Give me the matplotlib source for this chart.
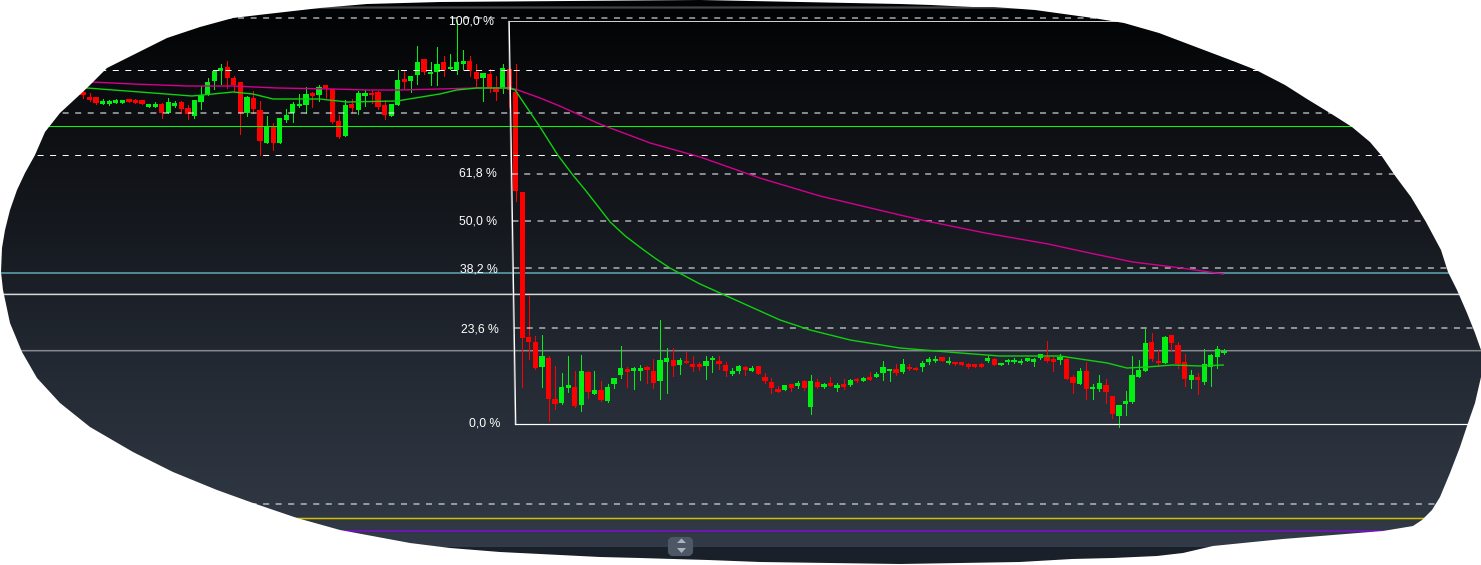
import matplotlib
matplotlib.use("Agg")
import matplotlib.pyplot as plt
import numpy as np
from matplotlib.patches import FancyBboxPatch, PathPatch, Polygon
from matplotlib.path import Path

# candles, price units are arbitrary: 0 is the 0,0 % line
candle_open = [
    332, 327, 327, 320, 320, 321, 321, 325, 324, 324,
    317, 317, 320, 311, 318, 322, 316, 308, 322, 330,
    343, 353, 357, 346, 342, 311, 326, 314, 281, 297,
    281, 304, 311, 318, 319, 331, 329, 339, 335, 303,
    288, 320, 314, 328, 331, 332, 319, 308, 319, 345,
    343, 349, 365, 350, 352, 362, 355, 354, 360, 363,
    352, 346, 350, 335, 336, 355, 332, 232, 87, 82,
    57, 66, 25, 21, 36, 37, 19, 52, 30, 34,
    23, 40, 49, 55, 53, 53, 57, 53, 43, 62,
    64, 59, 63, 60, 60, 58, 64, 63, 59, 50,
    53, 57, 53, 58, 47, 42, 35, 34, 40, 38,
    43, 17, 42, 37, 41, 36, 40, 39, 45, 43,
    47, 47, 51, 53, 55, 52, 57, 56, 57, 62,
    63, 67, 61, 62, 62, 60, 60, 60, 63, 65,
    59, 62, 62, 61, 63, 62, 66, 67, 65, 64,
    65, 47, 40, 53, 35, 35, 39, 28, 8, 20,
    22, 47, 53, 82, 63, 61, 89, 79, 62, 44,
    47, 42, 57, 67, 71,
]
candle_close = [
    329, 324, 321, 323, 323, 324, 324, 322, 321, 320,
    320, 320, 311, 322, 321, 315, 310, 324, 329, 342,
    353, 356, 346, 339, 311, 327, 315, 283, 298, 281,
    306, 309, 320, 320, 330, 328, 337, 336, 302, 287,
    319, 316, 331, 331, 329, 317, 309, 320, 344, 342,
    348, 362, 352, 352, 360, 354, 357, 362, 363, 353,
    345, 351, 336, 332, 356, 334, 233, 86, 82, 56,
    68, 25, 20, 37, 39, 18, 53, 32, 34, 24,
    37, 46, 56, 52, 56, 56, 54, 41, 64, 66,
    58, 64, 61, 57, 57, 63, 66, 60, 53, 53,
    58, 54, 56, 50, 43, 36, 32, 39, 36, 41,
    36, 43, 37, 40, 38, 39, 37, 44, 43, 46,
    44, 50, 57, 55, 51, 60, 55, 54, 61, 65,
    65, 63, 63, 60, 59, 57, 57, 57, 66, 59,
    61, 64, 64, 63, 66, 65, 70, 63, 62, 67,
    45, 41, 53, 35, 37, 41, 32, 10, 19, 23,
    49, 54, 81, 65, 61, 87, 81, 60, 45, 49,
    44, 60, 69, 75, 73,
]
candle_high = [
    333, 331, 327, 325, 324, 325, 324, 325, 325, 324,
    320, 322, 321, 326, 323, 323, 319, 324, 338, 346,
    354, 360, 363, 348, 342, 328, 333, 323, 308, 301,
    306, 315, 322, 330, 337, 332, 339, 339, 335, 309,
    324, 325, 333, 334, 334, 333, 324, 320, 354, 354,
    348, 378, 365, 362, 377, 368, 370, 404, 374, 368,
    360, 351, 355, 348, 360, 356, 360, 232, 129, 88,
    89, 68, 58, 51, 68, 53, 69, 53, 53, 43,
    40, 46, 78, 57, 57, 59, 58, 65, 104, 76,
    76, 66, 72, 68, 62, 68, 68, 68, 62, 56,
    59, 58, 58, 58, 51, 46, 38, 39, 40, 43,
    44, 49, 45, 41, 47, 41, 45, 45, 46, 47,
    52, 52, 63, 55, 60, 65, 60, 57, 63, 67,
    68, 67, 67, 62, 62, 61, 60, 61, 68, 66,
    61, 65, 66, 65, 66, 66, 70, 83, 67, 70,
    66, 49, 56, 62, 40, 49, 45, 28, 19, 33,
    68, 64, 95, 91, 74, 88, 89, 82, 70, 54,
    51, 75, 70, 78, 75,
]
candle_low = [
    326, 323, 320, 320, 319, 321, 321, 322, 321, 320,
    317, 317, 306, 311, 317, 311, 305, 306, 315, 329,
    335, 340, 336, 333, 290, 308, 311, 269, 281, 274,
    281, 302, 302, 317, 311, 317, 323, 326, 301, 286,
    288, 312, 310, 318, 321, 315, 305, 308, 319, 336,
    332, 340, 350, 339, 339, 348, 355, 350, 355, 348,
    337, 323, 332, 324, 331, 317, 223, 37, 65, 55,
    37, 3, 15, 20, 32, 17, 13, 26, 30, 23,
    22, 36, 46, 37, 35, 44, 41, 36, 25, 31,
    48, 50, 61, 53, 54, 45, 52, 55, 48, 49,
    51, 49, 53, 50, 41, 31, 32, 34, 33, 36,
    34, 10, 36, 36, 38, 33, 35, 38, 42, 43,
    44, 47, 44, 43, 49, 51, 54, 54, 53, 60,
    62, 63, 60, 59, 59, 56, 57, 57, 62, 59,
    59, 60, 61, 60, 63, 58, 65, 62, 53, 60,
    45, 31, 40, 25, 25, 33, 21, 6, -3, 9,
    21, 47, 53, 63, 58, 61, 74, 56, 38, 36,
    30, 40, 38, 56, 70,
]

slow_ma_bar = [1.4, 7.6, 15.9, 22.9, 29.6, 38.1, 43.3, 48.3, 54.4, 60.1, 65.1, 65.9, 69.7,
               72.7, 78.8, 86.5, 94.1, 103.2, 112.4, 124.6, 128.6, 137.6, 147.2, 152.8, 160.1, 167.5, 173.9]
slow_ma_val = [342, 340, 338, 338, 336, 335, 334, 334, 335, 336, 336, 335, 326,
               318, 300, 281, 267, 246, 228, 209, 203, 191, 180, 172, 162, 156, 150]
fast_ma_bar = [0.6, 8.7, 16.6, 19.8, 22.9, 25.9, 29, 36.1, 40.3, 47.9, 48.8, 54.4, 57, 60.1, 65.1, 65.9,
               69.7, 72.4, 74.7, 76.6, 80.4, 82.7, 84.9, 87.2, 89.5, 94.1, 100.2, 106.3, 110.9, 117, 124.6, 133.8,
               139.8, 149, 153.1, 156.2, 159.2, 162.3, 164.2, 166.2, 170.4, 173.9]
fast_ma_val = [336, 332, 328, 330, 332, 330, 325, 325, 322, 323, 324, 330, 334, 336, 336, 334,
               297, 269, 249, 234, 202, 188, 177, 166, 156, 140, 122, 104, 94, 84, 76, 71,
               68, 68, 64, 61, 56, 57, 58, 59, 58, 59]

# horizontal levels
full_dash_levels = [406, 353.5, 311, 268.5, -80]
fib_dash_levels = [250, 203, 156, 96]
green_level = 297.5
teal_level = 151
white_level = 129.6
grey_level = 73.3
yellow_level = -94.5
purple_level = -107
top_level = 416.5

# fibonacci frame
fib_bars = [65, 66]
fib_high = 402.5
fib_low = -0.5
fib_labels = ["100,0 %", "61,8 %", "50,0 %", "38,2 %", "23,6 %", "0,0 %"]
fib_label_prices = [403, 251, 203, 155, 95, 0]

# outline of the visible area, the rest of the picture is white
blob = [(1, 272), (2, 248), (5, 230), (10, 210), (17, 190), (25, 173), (35, 155), (45, 132), (60, 113),
        (87, 88), (107, 68), (133, 55), (167, 38), (200, 27), (233, 18), (267, 14), (320, 8), (367, 4),
        (440, 2), (700, 0), (900, 4), (931, 5), (973, 7), (994, 7), (1035, 10), (1093, 18), (1124, 23),
        (1159, 33), (1196, 47), (1233, 61), (1256, 70), (1285, 85), (1307, 99), (1330, 113), (1352, 127),
        (1370, 142), (1381, 155), (1396, 177), (1411, 197), (1426, 222), (1441, 250), (1448, 272),
        (1457, 290), (1467, 313), (1475, 333), (1481, 350), (1481, 377), (1475, 403), (1468, 423),
        (1460, 447), (1450, 473), (1440, 497), (1432, 510), (1422, 520), (1413, 526), (1383, 531),
        (1333, 535), (1283, 539), (1213, 546), (1183, 553), (1157, 556), (1113, 558), (1072, 559),
        (1020, 562), (900, 564), (760, 562), (708, 560), (673, 559), (640, 558), (600, 557), (500, 552),
        (450, 548), (410, 543), (340, 530), (297, 518), (253, 503), (217, 490), (173, 472), (133, 452),
        (90, 427), (60, 403), (37, 378), (22, 352), (10, 323), (3, 290)]

W, H = 1481, 565
BAR_PX = 6.557
FIRST_BAR_PX = 83
ZERO_ROW = 424
PX = 0.72  # one pixel in points at dpi 100

fig = plt.figure(figsize=(W / 100, H / 100), dpi=100, facecolor="white")

# background
bg = fig.add_axes([0, 0, 1, 1], zorder=0)
bg.set_xlim(0, W)
bg.set_ylim(H, 0)
bg.axis("off")
rows = np.arange(H)
shade = np.stack([
    np.interp(rows, [10, 100, 200, 290, 400, 500, 545], [2, 11, 19, 27, 39, 46, 49]),
    np.interp(rows, [10, 100, 200, 290, 400, 500, 545], [3, 13, 22, 32, 45, 54, 58]),
    np.interp(rows, [10, 100, 200, 290, 400, 500, 545], [4, 16, 27, 40, 55, 65, 70]),
], axis=1) / 255
shade[547:] = np.array([26, 32, 41]) / 255
bg.imshow(shade[:, None, :], extent=[0, W, H, 0], aspect="auto", interpolation="nearest")

# chart
ax = fig.add_axes([0, 0, 1, 1], zorder=1)
ax.patch.set_alpha(0)
ax.set_xlim(-FIRST_BAR_PX / BAR_PX, (W - FIRST_BAR_PX) / BAR_PX)
ax.set_ylim(ZERO_ROW - H, ZERO_ROW)
ax.axis("off")
x_right = ax.get_xlim()[1]

bars = np.arange(len(candle_open))
opens = np.array(candle_open)
closes = np.array(candle_close)
colors = np.where(closes > opens, "#00f014", "#ff0000")

ax.vlines(bars, candle_low, candle_high, colors=colors, linewidth=PX * 0.75, antialiased=False, zorder=2)
ax.bar(bars, np.abs(closes - opens), bottom=np.minimum(opens, closes), width=0.8,
       color=colors, linewidth=0, zorder=3)

dash = (0, (6, 6.53))
for level in full_dash_levels:
    ax.axhline(level, color="white", linewidth=PX, linestyle=dash, snap=False, zorder=4)
for level in fib_dash_levels:
    start = np.interp(level, [fib_low, fib_high], fib_bars[::-1])
    ax.plot([start, x_right], [level, level], color="white", linewidth=PX, linestyle=dash, snap=False, zorder=4)

ax.axhline(green_level, color="#00ff00", linewidth=PX, snap=False, zorder=4)
ax.axhline(teal_level, color="#4f8691", linewidth=1.44, snap=False, zorder=1)
ax.axhline(white_level, color="#d8d8d8", linewidth=1.1, snap=False, zorder=1)
ax.axhline(grey_level, color="#85898f", linewidth=1.1, snap=False, zorder=1)
ax.axhline(yellow_level, color="#d0bc00", linewidth=1.1, snap=False, zorder=1)
ax.axhline(purple_level, color="#6e14b0", linewidth=1.44, snap=False, zorder=1)
ax.axhline(top_level, color="#444444", linewidth=1.6, snap=False, zorder=1)

ax.plot(slow_ma_bar, slow_ma_val, color="#d4008f", linewidth=1.0, zorder=5)
ax.plot(fast_ma_bar, fast_ma_val, color="#10d010", linewidth=1.0, zorder=5)

# fibonacci frame
ax.plot(fib_bars, [fib_high, fib_low], color="white", linewidth=PX * 1.2, zorder=6)
ax.plot([fib_bars[0] - 0.12, fib_bars[1] - 0.12], [fib_high, fib_low], color="#9a9a9a",
        linewidth=PX, alpha=0.7, zorder=5)
ax.plot([fib_bars[0], x_right], [fib_high, fib_high], color="#cfcfcf", linewidth=PX, snap=False, zorder=6)
ax.plot([fib_bars[1], x_right], [fib_low, fib_low], color="white", linewidth=PX * 1.2, snap=False, zorder=6)

for label, price in zip(fib_labels, fib_label_prices):
    frame_bar = np.interp(price, [fib_low, fib_high], fib_bars[::-1])
    ax.annotate(label, xy=(frame_bar, price), xytext=(-10.8, 0), textcoords="offset points",
                ha="right", va="center", color="white", fontsize=8.8, family="Liberation Sans", zorder=7)

# white outside of the blob, and the little slider button
top = fig.add_axes([0, 0, 1, 1], zorder=2)
top.patch.set_alpha(0)
top.set_xlim(0, W)
top.set_ylim(H, 0)
top.axis("off")

top.add_patch(FancyBboxPatch((670, 539), 21, 15, boxstyle="round,pad=0,rounding_size=3",
                             mutation_aspect=1, linewidth=3, edgecolor="#4d5766", facecolor="#4d5766", zorder=1))
top.add_patch(Polygon([(677, 543), (686, 543), (681.5, 538.5)], closed=True, color="#aab2bc", linewidth=0, zorder=2))
top.add_patch(Polygon([(677, 548), (686, 548), (681.5, 553)], closed=True, color="#aab2bc", linewidth=0, zorder=2))

outer = [(-5, -5), (W + 5, -5), (W + 5, H + 5), (-5, H + 5), (-5, -5)]
verts = outer + blob[::-1] + [blob[-1]]
codes = [Path.MOVETO] + [Path.LINETO] * 3 + [Path.CLOSEPOLY] + [Path.MOVETO] + [Path.LINETO] * (len(blob) - 1) + [Path.CLOSEPOLY]
top.add_patch(PathPatch(Path(verts, codes), facecolor="white", edgecolor="none", zorder=3))

fig.savefig("out.png", dpi=100, facecolor="white")
